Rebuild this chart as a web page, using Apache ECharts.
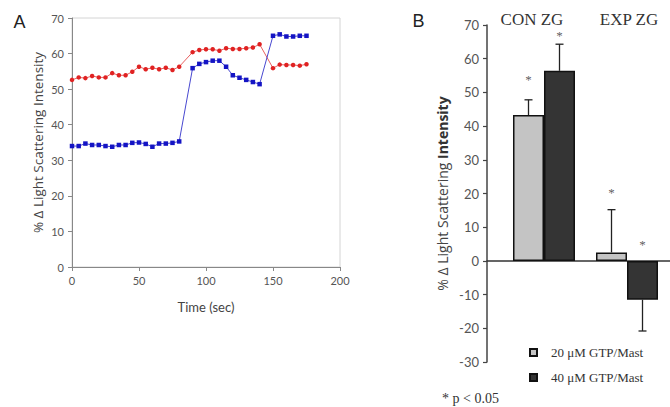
<!DOCTYPE html>
<html>
<head>
<meta charset="utf-8">
<script src="https://cdn.jsdelivr.net/npm/echarts@6/dist/echarts.min.js"></script>
<style>html,body{margin:0;padding:0;background:#fff}#c{width:670px;height:407px}</style>
</head>
<body>
<div id="c"></div>
<script>
// ---- Panel A data ----
const timeA = [0,5,10,15,20,25,30,35,40,45,50,55,60,65,70,75,80,90,95,100,105,110,115,120,125,130,135,140,150,155,160,165,170,175];
const redA  = [52.6,53.3,53.1,53.7,53.3,53.3,54.5,53.9,53.9,54.9,56.3,55.6,56.0,55.6,56.0,55.4,56.3,60.4,61.0,61.2,61.2,60.8,61.5,61.3,61.3,61.5,61.7,62.6,55.9,56.9,56.8,56.8,56.6,57.0];
const blueA = [34.0,34.0,34.7,34.3,34.3,34.0,33.8,34.3,34.3,34.9,35.0,34.6,33.8,34.7,34.7,34.9,35.3,55.9,57.1,57.6,58.0,58.0,56.3,53.9,53.2,52.6,52.0,51.4,65.0,65.4,64.8,64.8,65.0,65.0];

// ---- Panel B data ----
const categoriesB = ['CON ZG', 'EXP ZG'];
const seriesNamesB = ['20 μM GTP/Mast', '40 μM GTP/Mast'];
const gtp20 = [43.3, 2.5];
const gtp40 = [56.4, -11.5];
const err20 = [4.5, 12.7];
const err40 = [7.9, 9.3];
const star20 = [54.6, 21.1];
const star40 = [67.9, 5.7];

const posB = categoriesB.map((c, i) => i + 1);
const BAR_W = 31;

function errRender(side) {
  return function (params, api) {
    const x = api.value(0), v = api.value(1), e = api.value(2);
    const dir = v >= 0 ? 1 : -1;
    const p0 = api.coord([x, v]);
    const p1 = api.coord([x, v + dir * e]);
    const cx = p0[0] + side * BAR_W / 2;
    return {
      type: 'group',
      children: [
        {type: 'line', shape: {x1: cx, y1: p0[1], x2: cx, y2: p1[1]}, style: {stroke: '#222', lineWidth: 1.3}},
        {type: 'line', shape: {x1: cx - 4, y1: p1[1], x2: cx + 4, y2: p1[1]}, style: {stroke: '#222', lineWidth: 1.3}}
      ]
    };
  };
}

function starSeries(side, vals) {
  return {
    type: 'scatter', xAxisIndex: 1, yAxisIndex: 1, z: 6, symbolSize: 0, silent: true,
    data: posB.map((p, i) => [p, vals[i]]),
    itemStyle: {color: '#333'},
    label: {show: true, formatter: '*', position: 'inside', offset: [side * BAR_W / 2, 3],
      color: '#333', fontSize: 13, fontFamily: 'Liberation Serif', textBorderWidth: 0}
  };
}

const chart = echarts.init(document.getElementById('c'), null, {renderer: 'svg'});
const axisFont = 'Lato';
const nameFont = 'Open Sans';
chart.setOption({
  backgroundColor: '#fff',
  animation: false,
  grid: [
    {left: 72, right: 330, top: 18, bottom: 140, show: true, borderColor: '#d4d4d4', borderWidth: 1, outerBoundsMode: 'none'},
    {left: 487, right: 0, top: 25, bottom: 45, outerBoundsMode: 'none'}
  ],
  xAxis: [
    {gridIndex: 0, type: 'value', min: 0, max: 200, interval: 50,
     axisLine: {show: true, onZero: false, lineStyle: {color: '#888', width: 1}},
     axisTick: {show: true, length: 4, lineStyle: {color: '#888'}},
     axisLabel: {color: '#555', fontSize: 11, fontFamily: axisFont, margin: 8},
     splitLine: {show: false},
     name: 'Time (sec)', nameLocation: 'middle', nameGap: 33,
     nameTextStyle: {color: '#444', fontSize: 13, fontFamily: axisFont}},
    {gridIndex: 1, type: 'value', min: 0.3133, max: 2.518,
     axisLine: {show: true, onZero: true, lineStyle: {color: '#333', width: 1.5}},
     axisTick: {show: false}, axisLabel: {show: false}, splitLine: {show: false}}
  ],
  yAxis: [
    {gridIndex: 0, type: 'value', min: 0, max: 70, interval: 10,
     axisLine: {show: true, onZero: false, lineStyle: {color: '#888', width: 1}},
     axisTick: {show: true, length: 4, lineStyle: {color: '#888'}},
     axisLabel: {color: '#555', fontSize: 11, fontFamily: axisFont, margin: 8},
     splitLine: {show: false},
     name: '% Δ Light Scattering Intensity', nameLocation: 'middle', nameGap: 27,
     nameTextStyle: {color: '#444', fontSize: 13.5, fontFamily: nameFont}},
    {gridIndex: 1, type: 'value', min: -30, max: 70, interval: 10,
     axisLine: {show: true, onZero: false, lineStyle: {color: '#444', width: 1.5}},
     axisTick: {show: true, length: 4, lineStyle: {color: '#444', width: 1.2}},
     axisLabel: {color: '#555', fontSize: 13, fontFamily: axisFont, margin: 8},
     splitLine: {show: false},
     name: '{n|% Δ Light Scattering }{b|Intensity}', nameLocation: 'middle', nameGap: 38,
     nameTextStyle: {color: '#444', fontSize: 14, fontFamily: nameFont,
       rich: {n: {color: '#444', fontSize: 14, fontFamily: nameFont}, b: {color: '#333', fontSize: 14, fontFamily: nameFont, fontWeight: 'bold'}}}}
  ],
  legend: {
    data: seriesNamesB, orient: 'vertical', left: 529, top: 346, padding: 0, itemWidth: 7, itemHeight: 7, itemGap: 12,
    icon: 'rect', selectedMode: false,
    textStyle: {fontFamily: 'Liberation Serif', fontSize: 13, color: '#333', padding: [0, 0, 0, 9]}
  },
  graphic: [
    {type: 'text', x: 19.5, y: 21.5, style: {text: 'A', font: '18px "Liberation Sans"', fill: '#222', align: 'center', verticalAlign: 'middle'}},
    {type: 'text', x: 418.5, y: 21, style: {text: 'B', font: '18px "Liberation Sans"', fill: '#222', align: 'center', verticalAlign: 'middle'}},
    {type: 'text', x: 532, y: 19, style: {text: categoriesB[0], font: '17px "Liberation Serif"', fill: '#333', align: 'center', verticalAlign: 'middle'}},
    {type: 'text', x: 629, y: 19, style: {text: categoriesB[1], font: '17px "Liberation Serif"', fill: '#333', align: 'center', verticalAlign: 'middle'}},
    {type: 'text', x: 442, y: 398, style: {text: '* p < 0.05', font: '14px "Liberation Serif"', fill: '#333', align: 'left', verticalAlign: 'middle'}}
  ],
  series: [
    {type: 'line', xAxisIndex: 0, yAxisIndex: 0, data: timeA.map((t, i) => [t, redA[i]]),
     symbol: 'circle', symbolSize: 4.5, lineStyle: {color: '#e86060', width: 1},
     itemStyle: {color: '#e02222'}},
    {type: 'line', xAxisIndex: 0, yAxisIndex: 0, data: timeA.map((t, i) => [t, blueA[i]]),
     symbol: 'rect', symbolSize: 4.5, lineStyle: {color: '#4848d0', width: 1},
     itemStyle: {color: '#1414c4'}},
    {type: 'bar', name: seriesNamesB[0], xAxisIndex: 1, yAxisIndex: 1, data: posB.map((p, i) => [p, gtp20[i]]),
     barWidth: BAR_W, barGap: '0%', itemStyle: {color: '#c4c4c4', borderColor: '#111', borderWidth: 1.5}},
    {type: 'bar', name: seriesNamesB[1], xAxisIndex: 1, yAxisIndex: 1, data: posB.map((p, i) => [p, gtp40[i]]),
     barWidth: BAR_W, barGap: '0%', itemStyle: {color: '#343434', borderColor: '#111', borderWidth: 1.5}},
    {type: 'custom', xAxisIndex: 1, yAxisIndex: 1, z: 5, renderItem: errRender(-1), itemStyle: {color: '#333'},
     data: posB.map((p, i) => [p, gtp20[i], err20[i]])},
    {type: 'custom', xAxisIndex: 1, yAxisIndex: 1, z: 5, renderItem: errRender(1), itemStyle: {color: '#333'},
     data: posB.map((p, i) => [p, gtp40[i], err40[i]])},
    starSeries(-1, star20),
    starSeries(1, star40)
  ]
});
</script>
</body>
</html>
